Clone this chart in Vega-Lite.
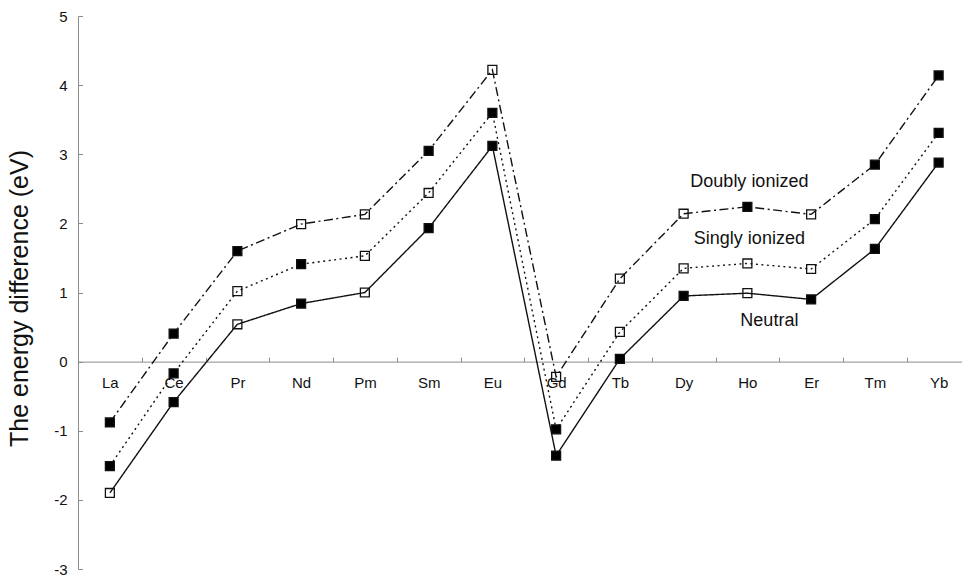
{
  "$schema": "https://vega.github.io/schema/vega-lite/v6.json",
  "width": 884,
  "height": 553,
  "autosize": {"type": "none"},
  "padding": {"left": 78, "top": 16, "right": 0, "bottom": 7},
  "background": "white",
  "config": {
    "view": {"stroke": null},
    "font": "Liberation Sans",
    "axis": {"grid": false}
  },
  "datasets": {
    "energy": [
      {"element": "La", "series": "Neutral", "value": -1.90, "kind": "open"},
      {"element": "Ce", "series": "Neutral", "value": -0.585, "kind": "filled"},
      {"element": "Pr", "series": "Neutral", "value": 0.54, "kind": "open"},
      {"element": "Nd", "series": "Neutral", "value": 0.84, "kind": "filled"},
      {"element": "Pm", "series": "Neutral", "value": 1.00, "kind": "open"},
      {"element": "Sm", "series": "Neutral", "value": 1.93, "kind": "filled"},
      {"element": "Eu", "series": "Neutral", "value": 3.12, "kind": "filled"},
      {"element": "Gd", "series": "Neutral", "value": -1.36, "kind": "filled"},
      {"element": "Tb", "series": "Neutral", "value": 0.04, "kind": "filled"},
      {"element": "Dy", "series": "Neutral", "value": 0.95, "kind": "filled"},
      {"element": "Ho", "series": "Neutral", "value": 0.99, "kind": "open"},
      {"element": "Er", "series": "Neutral", "value": 0.90, "kind": "filled"},
      {"element": "Tm", "series": "Neutral", "value": 1.63, "kind": "filled"},
      {"element": "Yb", "series": "Neutral", "value": 2.88, "kind": "filled"},

      {"element": "La", "series": "Singly ionized", "value": -1.51, "kind": "filled"},
      {"element": "Ce", "series": "Singly ionized", "value": -0.17, "kind": "filled"},
      {"element": "Pr", "series": "Singly ionized", "value": 1.02, "kind": "open"},
      {"element": "Nd", "series": "Singly ionized", "value": 1.41, "kind": "filled"},
      {"element": "Pm", "series": "Singly ionized", "value": 1.53, "kind": "open"},
      {"element": "Sm", "series": "Singly ionized", "value": 2.44, "kind": "open"},
      {"element": "Eu", "series": "Singly ionized", "value": 3.60, "kind": "filled"},
      {"element": "Gd", "series": "Singly ionized", "value": -0.98, "kind": "filled"},
      {"element": "Tb", "series": "Singly ionized", "value": 0.43, "kind": "open"},
      {"element": "Dy", "series": "Singly ionized", "value": 1.35, "kind": "open"},
      {"element": "Ho", "series": "Singly ionized", "value": 1.42, "kind": "open"},
      {"element": "Er", "series": "Singly ionized", "value": 1.34, "kind": "open"},
      {"element": "Tm", "series": "Singly ionized", "value": 2.06, "kind": "filled"},
      {"element": "Yb", "series": "Singly ionized", "value": 3.31, "kind": "filled"},

      {"element": "La", "series": "Doubly ionized", "value": -0.88, "kind": "filled"},
      {"element": "Ce", "series": "Doubly ionized", "value": 0.405, "kind": "filled"},
      {"element": "Pr", "series": "Doubly ionized", "value": 1.60, "kind": "filled"},
      {"element": "Nd", "series": "Doubly ionized", "value": 1.99, "kind": "open"},
      {"element": "Pm", "series": "Doubly ionized", "value": 2.13, "kind": "open"},
      {"element": "Sm", "series": "Doubly ionized", "value": 3.05, "kind": "filled"},
      {"element": "Eu", "series": "Doubly ionized", "value": 4.22, "kind": "open"},
      {"element": "Gd", "series": "Doubly ionized", "value": -0.22, "kind": "open"},
      {"element": "Tb", "series": "Doubly ionized", "value": 1.20, "kind": "open"},
      {"element": "Dy", "series": "Doubly ionized", "value": 2.14, "kind": "open"},
      {"element": "Ho", "series": "Doubly ionized", "value": 2.24, "kind": "filled"},
      {"element": "Er", "series": "Doubly ionized", "value": 2.13, "kind": "open"},
      {"element": "Tm", "series": "Doubly ionized", "value": 2.85, "kind": "filled"},
      {"element": "Yb", "series": "Doubly ionized", "value": 4.14, "kind": "filled"}
    ],
    "labels": [
      {"label": "Doubly ionized", "element": "Ho", "value": 2.60},
      {"label": "Singly ionized", "element": "Ho", "value": 1.77},
      {"label": "Neutral", "element": "Ho", "value": 0.59}
    ]
  },
  "encoding": {
    "x": {
      "field": "element",
      "type": "nominal",
      "sort": ["La", "Ce", "Pr", "Nd", "Pm", "Sm", "Eu", "Gd", "Tb", "Dy", "Ho", "Er", "Tm", "Yb"],
      "scale": {"type": "band", "paddingInner": 0, "paddingOuter": 0, "range": [0, 892.5]},
      "axis": {
        "title": null,
        "orient": "bottom",
        "offset": -207.375,
        "tickBand": "extent",
        "tickSize": -4.5,
        "labelPadding": 18.5,
        "labelAngle": 0,
        "labelFontSize": 15,
        "labelColor": "#111111",
        "domainColor": "#8c8c8c",
        "tickColor": "#8c8c8c",
        "domainWidth": 1,
        "tickWidth": 1
      }
    },
    "y": {
      "field": "value",
      "type": "quantitative",
      "scale": {"domain": [-3, 5], "nice": false, "zero": false},
      "axis": {
        "title": "The energy difference (eV)",
        "titleFontSize": 25,
        "titleFontWeight": "normal",
        "titleColor": "#111111",
        "titleAngle": 270,
        "titleAlign": "center",
        "titleBaseline": "alphabetic",
        "titleX": -51,
        "titleY": 282,
        "values": [-3, -2, -1, 0, 1, 2, 3, 4, 5],
        "labelExpr": "'' + datum.value",
        "tickSize": -4.5,
        "labelPadding": 15.5,
        "labelFontSize": 15,
        "labelColor": "#111111",
        "domainColor": "#8c8c8c",
        "tickColor": "#8c8c8c",
        "domainWidth": 1,
        "tickWidth": 1
      }
    }
  },
  "layer": [
    {
      "data": {"name": "energy"},
      "mark": {"type": "line", "color": "#111111", "strokeWidth": 1.4},
      "encoding": {
        "detail": {"field": "series", "type": "nominal"},
        "strokeDash": {
          "field": "series",
          "type": "nominal",
          "scale": {
            "domain": ["Neutral", "Singly ionized", "Doubly ionized"],
            "range": [[1, 0], [2, 3.5], [9, 3.5, 2, 3.5]]
          },
          "legend": null
        }
      }
    },
    {
      "data": {"name": "energy"},
      "mark": {"type": "point", "shape": "square", "size": 80, "strokeWidth": 1.3, "opacity": 1, "stroke": "#111111"},
      "encoding": {
        "fill": {
          "field": "kind",
          "type": "nominal",
          "scale": {"domain": ["filled", "open"], "range": ["#000000", "transparent"]},
          "legend": null
        }
      }
    },
    {
      "data": {"name": "labels"},
      "transform": [{"filter": "datum.label !== 'Neutral'"}],
      "mark": {"type": "text", "fontSize": 18, "align": "center", "baseline": "middle", "dx": 2, "color": "#111111"},
      "encoding": {"text": {"field": "label"}}
    },
    {
      "data": {"name": "labels"},
      "transform": [{"filter": "datum.label === 'Neutral'"}],
      "mark": {"type": "text", "fontSize": 18, "align": "center", "baseline": "middle", "dx": 22, "color": "#111111"},
      "encoding": {"text": {"field": "label"}}
    }
  ]
}
